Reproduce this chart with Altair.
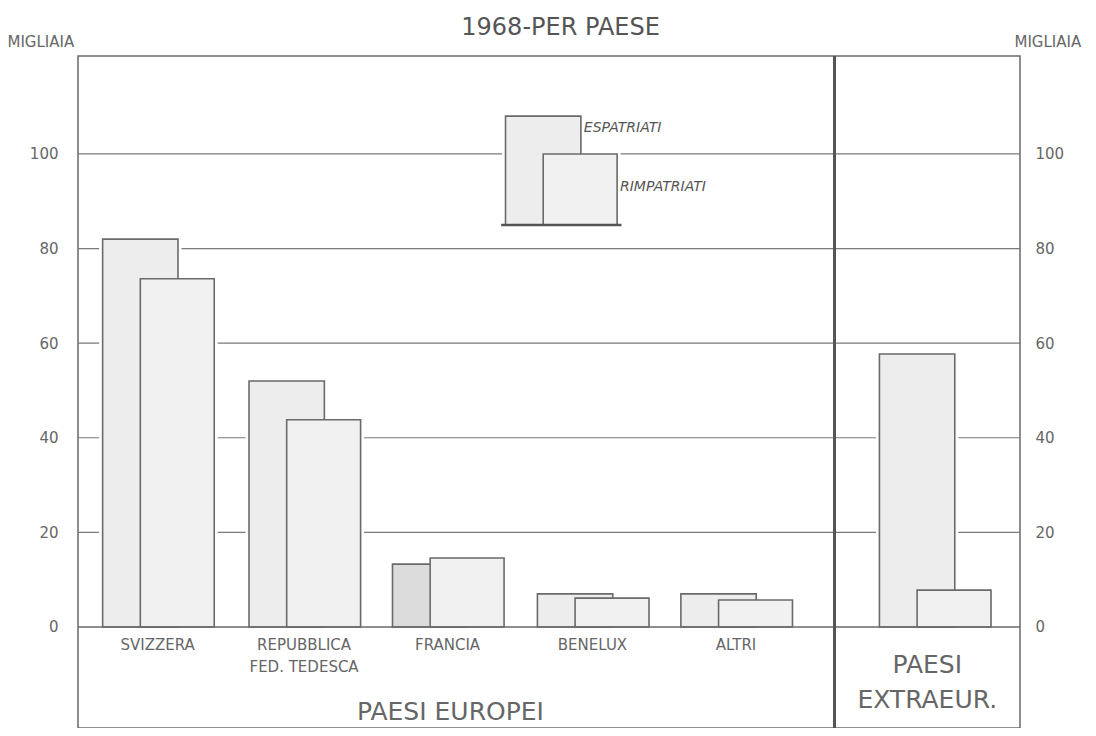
import altair as alt
import pandas as pd

# ---- data (migliaia) ----
categories = ["SVIZZERA", "REPUBBLICA\nFED. TEDESCA", "FRANCIA", "BENELUX", "ALTRI", "EXTRA"]
espatriati = [82.0, 52.0, 13.3, 7.0, 7.0, 57.7]
rimpatriati = [73.6, 43.8, 14.6, 6.1, 5.7, 7.8]
y_ticks = [0, 20, 40, 60, 80, 100]
legend_labels = ["ESPATRIATI", "RIMPATRIATI"]
legend_values = [23.0, 15.0]  # legend key heights above its base
title_text = "1968-PER PAESE"

# ---- layout (slot units along x) ----
slot_centers = [0.55, 1.56, 2.55, 3.55, 4.54, 5.91]
separator_x = 5.22
X_DOM = [0, 6.5]
Y_DOM = [-21.35, 120.7]
ESP_OFF = (-0.38, 0.14)
RIMP_OFF = (-0.12, 0.39)
LEG_CENTER, LEG_BASE = 3.33, 85.0

GRAY = "#6a6a6a"
TXT = "#666666"
FONT = "DejaVu Sans"

rows = []
for c, cx, e, r in zip(categories, slot_centers, espatriati, rimpatriati):
    rows.append(dict(cat=c, serie="ESPATRIATI", x0=cx + ESP_OFF[0], x1=cx + ESP_OFF[1], y0=0.0, y1=e))
    rows.append(dict(cat=c, serie="RIMPATRIATI", x0=cx + RIMP_OFF[0], x1=cx + RIMP_OFF[1], y0=0.0, y1=r))
for lab, v, off in zip(legend_labels, legend_values, [ESP_OFF, RIMP_OFF]):
    rows.append(dict(cat="LEGEND", serie=lab, x0=LEG_CENTER + off[0], x1=LEG_CENTER + off[1],
                     y0=LEG_BASE, y1=LEG_BASE + v))
bars = pd.DataFrame(rows)

xs = alt.Scale(domain=X_DOM, nice=False, zero=False)
ys = alt.Scale(domain=Y_DOM, nice=False, zero=False)
X = lambda f: alt.X(f, type="quantitative", scale=xs, axis=None)
Y = lambda f: alt.Y(f, type="quantitative", scale=ys, axis=None)

grid_df = pd.DataFrame({"v": y_ticks[1:]})
grid = alt.Chart(grid_df).mark_rule(color="#7a7a7a", strokeWidth=1.2).encode(y=Y("v:Q"))

halo = alt.Chart(bars).mark_rect(fill="white", stroke="white", strokeWidth=7).encode(
    x=X("x0:Q"), x2="x1:Q", y=Y("y0:Q"), y2="y1:Q")

fill_cond = alt.condition(
    (alt.datum.cat == "FRANCIA") & (alt.datum.serie == "ESPATRIATI"),
    alt.value("#dcdcdc"), alt.value("#ededed"))

esp = alt.Chart(bars).transform_filter(alt.datum.serie == "ESPATRIATI").mark_rect(
    stroke=GRAY, strokeWidth=1.6).encode(
    x=X("x0:Q"), x2="x1:Q", y=Y("y0:Q"), y2="y1:Q", fill=fill_cond)
rimp = alt.Chart(bars).transform_filter(alt.datum.serie == "RIMPATRIATI").mark_rect(
    stroke=GRAY, strokeWidth=1.6, fill="#f1f1f1").encode(
    x=X("x0:Q"), x2="x1:Q", y=Y("y0:Q"), y2="y1:Q")

base = alt.Chart(pd.DataFrame({"v": [0]})).mark_rule(color=GRAY, strokeWidth=1.5).encode(y=Y("v:Q"))

sep = alt.Chart(pd.DataFrame({"x": [separator_x], "y0": [Y_DOM[0]], "y1": [Y_DOM[1]]})).mark_rule(
    color="#555555", strokeWidth=3).encode(x=X("x:Q"), y=Y("y0:Q"), y2="y1:Q")

leg_base = alt.Chart(pd.DataFrame({"x0": [LEG_CENTER + ESP_OFF[0] - 0.03], "x1": [LEG_CENTER + RIMP_OFF[1] + 0.03],
                                   "y": [LEG_BASE]})).mark_rule(color="#555555", strokeWidth=2.5).encode(
    x=X("x0:Q"), x2="x1:Q", y=Y("y:Q"))

leg_text_df = pd.DataFrame({
    "t": legend_labels,
    "x": [LEG_CENTER + ESP_OFF[1] + 0.02, LEG_CENTER + RIMP_OFF[1] + 0.02],
    "y": [LEG_BASE + legend_values[0] - 2.5, LEG_BASE + 8.0],
})
leg_text = alt.Chart(leg_text_df).mark_text(align="left", baseline="middle", font=FONT, fontSize=14,
                                            fontStyle="italic", color="#555555").encode(
    x=X("x:Q"), y=Y("y:Q"), text="t:N")

cat_df = pd.DataFrame({"t": [c.split("\n") for c in categories[:5]], "x": slot_centers[:5], "y": [-3.8] * 5})
cat_text = alt.Chart(cat_df).mark_text(baseline="middle", font=FONT, fontSize=15, color=TXT,
                                       lineHeight=22).encode(
    x=X("x:Q"), y=Y("y:Q"), text="t")

grp_df = pd.DataFrame({"t": [["PAESI  EUROPEI"], ["PAESI", "EXTRAEUR."]],
                       "x": [2.57, 5.86], "y": [-18.0, -8.0]})
grp_text = alt.Chart(grp_df).mark_text(baseline="middle", font=FONT, fontSize=25, color=TXT,
                                       lineHeight=35).encode(
    x=X("x:Q"), y=Y("y:Q"), text="t")

title_mark = alt.Chart(pd.DataFrame({"t": [title_text], "x": [3.33], "y": [125.2]})).mark_text(
    baseline="alphabetic", font=FONT, fontSize=24, color="#555555").encode(
    x=X("x:Q"), y=Y("y:Q"), text="t:N")

axis_common = dict(values=y_ticks, ticks=False, domain=False, grid=False, labelFontSize=15,
                   labelColor=TXT, labelFont=FONT, title="MIGLIAIA", titleAngle=0,
                   titleFont=FONT, titleFontSize=15, titleColor=TXT, titleFontWeight="normal",
                   titleAlign="left", titleBaseline="alphabetic", titleY=-10)
left_axis = alt.Chart(pd.DataFrame({"v": [0]})).mark_point(opacity=0).encode(
    y=alt.Y("v:Q", scale=ys, axis=alt.Axis(orient="left", labelPadding=20, titleX=-71, **axis_common)))
right_axis = alt.Chart(pd.DataFrame({"v": [0]})).mark_point(opacity=0).encode(
    y=alt.Y("v:Q", scale=ys, axis=alt.Axis(orient="right", labelPadding=15, titleX=-6, **axis_common)))

chart = alt.layer(
    grid, halo, esp, rimp, base, sep, leg_base, leg_text, cat_text, grp_text, title_mark,
    left_axis, right_axis
).resolve_scale(y="independent").properties(
    width=942, height=672,
    padding={"left": 70, "top": 48, "right": 68, "bottom": 0},
    autosize=alt.AutoSizeParams(type="none"),
    background="white",
).configure_view(stroke=GRAY, strokeWidth=1.5)

chart.save("out.html", embed_options={"renderer": "svg", "actions": False})
